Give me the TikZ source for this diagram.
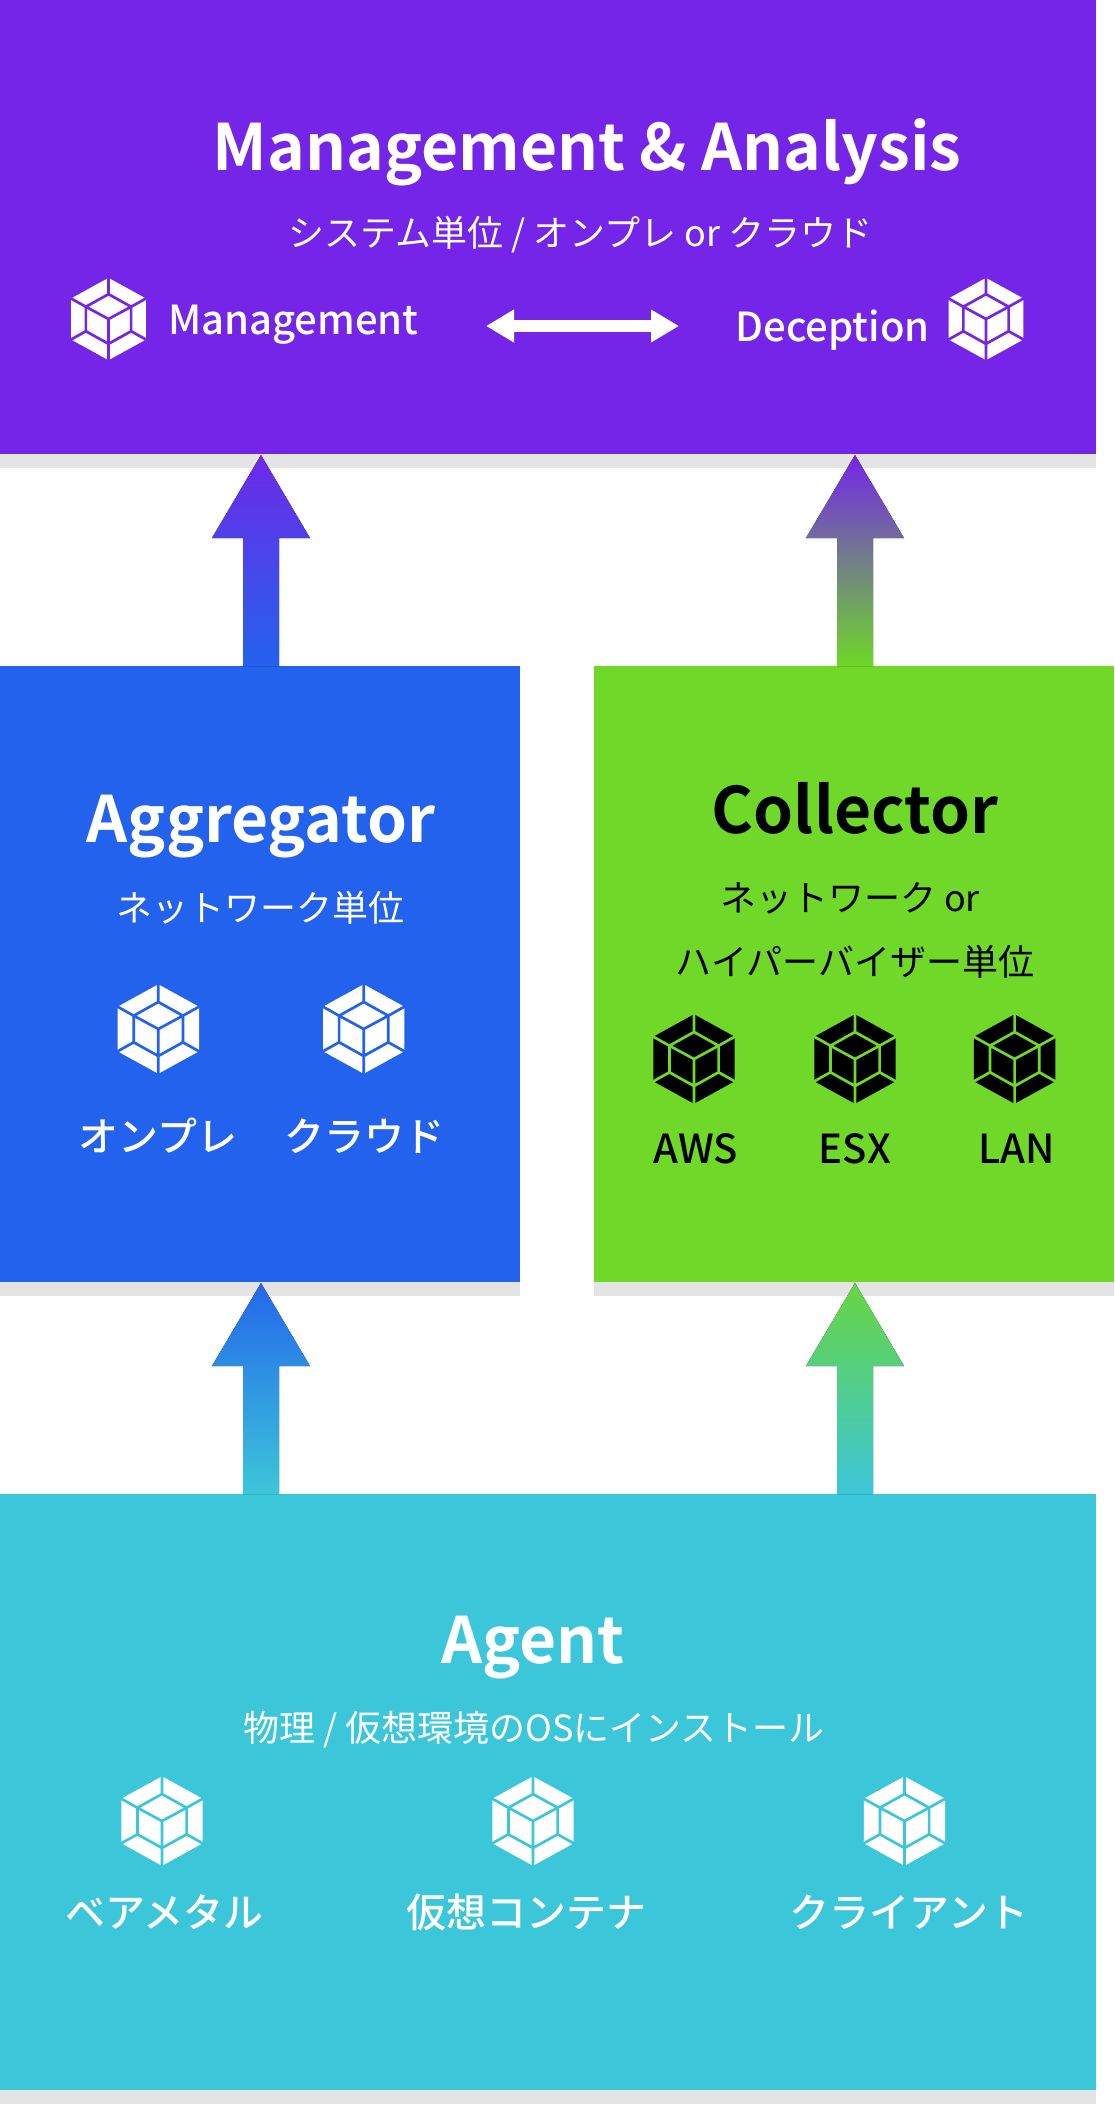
\documentclass[tikz,border=0pt]{standalone}
\usepackage{fontspec}
\setmainfont{Noto Sans CJK JP}[BoldFont={Noto Sans CJK JP Bold}]
\newfontfamily\medfont{Noto Sans CJK JP Medium}
\usetikzlibrary{calc,arrows.meta}
\definecolor{cpurple}{HTML}{7425E8}
\definecolor{cblue}{HTML}{2362EC}
\definecolor{cgreen}{HTML}{6FD828}
\definecolor{ccyan}{HTML}{3CC6D9}
\definecolor{cgrey}{HTML}{E4E4E4}
\newcommand{\fsz}[1]{\fontsize{#1}{#1}\selectfont}
\tikzset{
  x=1pt,y=-1pt,
  panel/.style={inner sep=0pt,outer sep=0pt,anchor=north west},
  lbl/.style={inner sep=0pt,outer sep=0pt,anchor=center},
  head/.style={lbl,font=\fsz{64}\bfseries},
  sub/.style={lbl,font=\fsz{36}},
  item/.style={lbl,font=\fsz{40}\medfont},
  shadowbar/.style={fill=cgrey,draw=none},
  pics/hexcube/.style n args={2}{code={
    \fill[#1] (0,-44.7) -- (40.7,-22.3) -- (40.7,22.3) -- (0,44.7) -- (-40.7,22.3) -- (-40.7,-22.3) -- cycle;
    \draw[#2,line width=2.7pt,line cap=butt,line join=miter]
      (0,-47) -- (0,-27) (43,-23.6) -- (24.6,-13.3) (43,23.6) -- (24.6,13.3)
      (0,47) -- (0,27) (-43,23.6) -- (-24.6,13.3) (-43,-23.6) -- (-24.6,-13.3)
      (0,-27) -- (24.6,-13.3) -- (24.6,13.3) -- (0,27) -- (-24.6,13.3) -- (-24.6,-13.3) -- cycle
      (0,0) -- (0,27) (0,0) -- (24.6,-13.3) (0,0) -- (-24.6,-13.3);
  }}
}
% #1 axis coordinate, #2 source panel, #3 target panel, #4 tip colour, #5 foot colour
\newcommand{\blockarrow}[5]{%
  \fill[top color=#4,bottom color=#5]
    ($(#1 |- #2.north)+(-18,0)$) -- ($(#1 |- #3.south)+(-18,84)$) -- ($(#1 |- #3.south)+(-49,84)$)
    -- ($(#1 |- #3.south)+(0,1)$) -- ($(#1 |- #3.south)+(49,84)$) -- ($(#1 |- #3.south)+(18,84)$)
    -- ($(#1 |- #2.north)+(18,0)$) -- cycle;}
\begin{document}
\begin{tikzpicture}
\useasboundingbox (0,0) rectangle (1114,2104);
\fill[white] (0,0) rectangle (1114,2104);
% panels
\node[panel,fill=cpurple,minimum width=1096pt,minimum height=454pt] (mgmt) at (0,0) {};
\node[panel,fill=cblue,minimum width=520pt,minimum height=616pt] (agg) at (0,666) {};
\node[panel,fill=cgreen,minimum width=520pt,minimum height=616pt] (coll) at (594,666) {};
\node[panel,fill=ccyan,minimum width=1096pt,minimum height=596pt] (agent) at (0,1494) {};
\fill[shadowbar] (mgmt.south west) rectangle ($(mgmt.south east)+(0,14)$);
\fill[shadowbar] (agg.south west) rectangle ($(agg.south east)+(0,14)$);
\fill[shadowbar] (coll.south west) rectangle ($(coll.south east)+(0,14)$);
\fill[shadowbar] (agent.south west) rectangle ($(agent.south east)+(0,14)$);
% arrows
\coordinate (axl) at (261,0);
\coordinate (axr) at (855,0);
\blockarrow{axl}{agg}{mgmt}{cpurple!92!cblue}{cblue}
\blockarrow{axr}{coll}{mgmt}{cpurple}{cgreen}
\blockarrow{axl}{agent}{agg}{cblue!95!ccyan}{ccyan}
\blockarrow{axr}{agent}{coll}{cgreen!85!ccyan}{ccyan}
% top panel
\node[head,text=white] (t1) at (587,152.5) {Management \& Analysis};
\node[sub,text=white] (s1) at (580.5,235) {システム単位 / オンプレ or クラウド};
\pic[scale=0.92] at (108.5,319) {hexcube={white}{cpurple}};
\pic[scale=0.92] at (986,319) {hexcube={white}{cpurple}};
\node[lbl,text=white,font=\fsz{40}\medfont] (m1) at (293.5,325) {Management};
\node[lbl,text=white,font=\fsz{40}\medfont] (m2) at (832.5,330) {Deception};
\coordinate (dl) at (486,326);
\coordinate (dr) at (679,326);
\draw[white,line width=12pt,{Triangle[length=28pt,width=31pt]}-{Triangle[length=28pt,width=31pt]}] (dl) -- (dr);
% aggregator
\node[head,text=white] (t2) at (261,827) {Aggregator};
\node[sub,text=white] (s2) at (260,907.5) {ネットワーク単位};
\pic at (158.3,1029) {hexcube={white}{cblue}};
\pic at (363.7,1029) {hexcube={white}{cblue}};
\node[item,text=white] (a1) at (158,1136) {オンプレ};
\node[item,text=white] (a2) at (364,1136) {クラウド};
% collector
\node[head,text=black] (t3) at (855,808.5) {Collector};
\node[sub,text=black] (s3a) at (850,898.5) {ネットワーク or};
\node[sub,text=black] (s3b) at (855,961.5) {ハイパーバイザー単位};
\pic at (694,1059) {hexcube={black}{cgreen}};
\pic at (855,1059) {hexcube={black}{cgreen}};
\pic at (1014.6,1059) {hexcube={black}{cgreen}};
\node[item,text=black] (c1) at (695.5,1149) {AWS};
\node[item,text=black] (c2) at (855,1149) {ESX};
\node[item,text=black] (c3) at (1016.5,1149) {LAN};
% agent
\node[head,text=white] (t4) at (533,1648) {Agent};
\node[sub,text=white] (s4) at (534,1730) {物理 / 仮想環境のOSにインストール};
\pic at (162,1821) {hexcube={white}{ccyan}};
\pic at (533,1821) {hexcube={white}{ccyan}};
\pic at (904.5,1821) {hexcube={white}{ccyan}};
\node[item,text=white] (g1) at (164,1912) {ベアメタル};
\node[item,text=white] (g2) at (526,1912) {仮想コンテナ};
\node[item,text=white] (g3) at (909,1912) {クライアント};
\end{tikzpicture}
\end{document}
